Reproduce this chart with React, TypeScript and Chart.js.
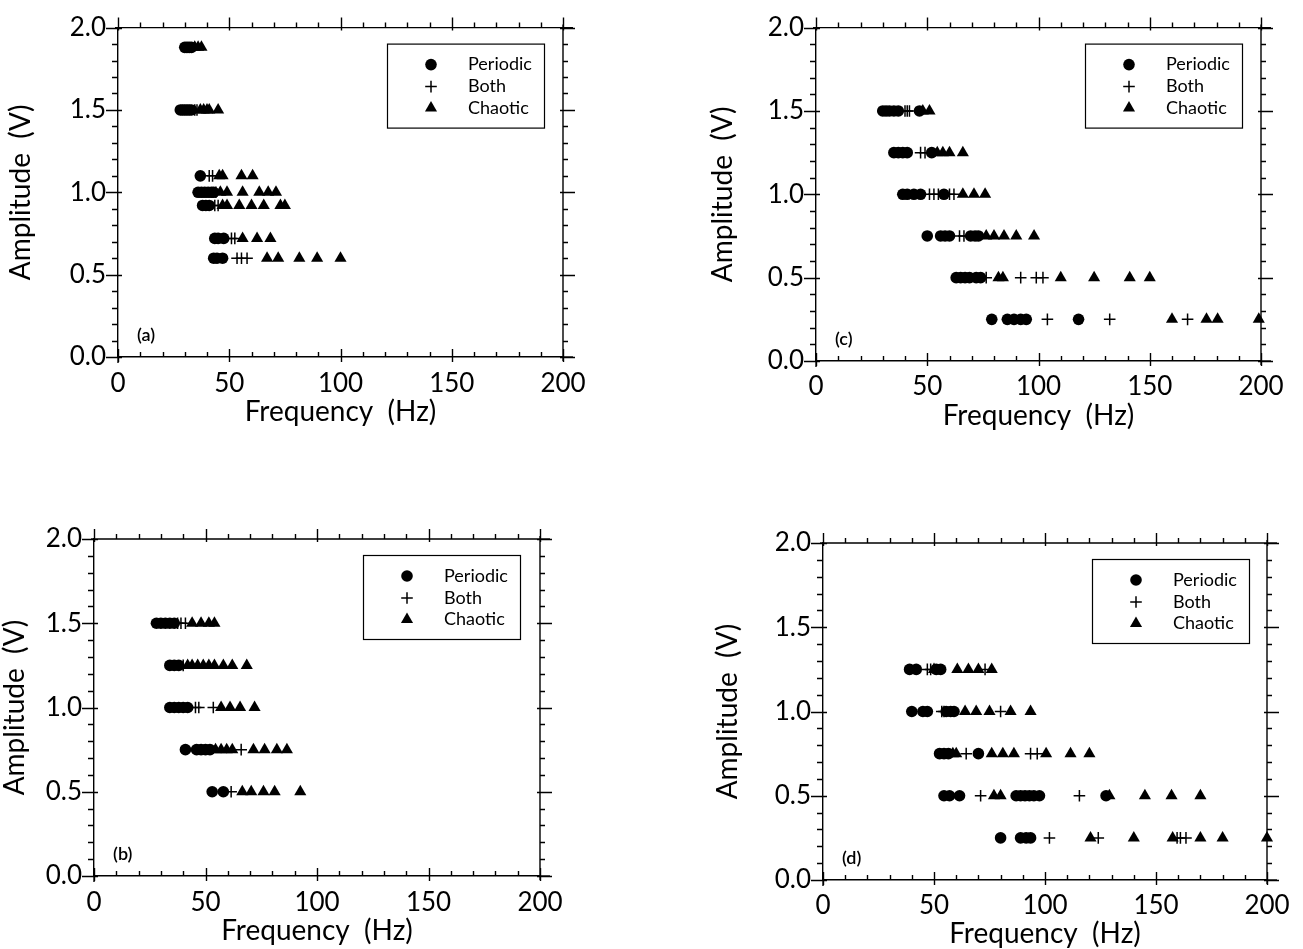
import React, { useEffect, useRef } from 'react';
import { Chart, registerables } from 'chart.js';
import { drawPoint } from 'chart.js/helpers';

Chart.register(...registerables);

const FONT = 'Lato, "Open Sans", "Liberation Sans", sans-serif';
const INK = '#000';

// ---------- shared axis / legend values ----------
const SERIES_LABELS = ['Periodic', 'Both', 'Chaotic'];
const X_MIN = 0;
const X_MAX = 200;
const X_MAJOR_STEP = 50;
const X_MINOR_STEP = 10;
const Y_MIN = 0;
const Y_MAX = 2;
const Y_MAJOR_STEP = 0.5;
const Y_MINOR_STEP = 0.1;
const X_TITLE = 'Frequency  (Hz)';
const Y_TITLE = 'Amplitude  (V)';

// ---------- panel (a): frequencies (Hz) per amplitude row ----------
const A_AMPLITUDES = [1.88, 1.5, 1.1, 1.0, 0.92, 0.72, 0.6];
const A_PERIODIC = [
  [30, 31, 32, 33],
  [28, 29, 30, 31, 32, 33],
  [37],
  [36, 37.5, 39, 40.5, 42, 43],
  [38, 39.5, 41],
  [43.5, 45, 47.5],
  [43, 44.5, 47],
];
const A_BOTH = [
  [],
  [34.5, 35.5],
  [41, 42.5],
  [44],
  [43.5, 45],
  [51, 52.5],
  [53.5, 55.5, 58],
];
const A_CHAOTIC = [
  [34.5, 36, 37.5],
  [37, 38.5, 40, 41, 45],
  [45.5, 47, 55.5, 60.5],
  [46, 49, 56, 63.5, 67.5, 71],
  [47, 49, 54.5, 60, 65.5, 73, 75],
  [56, 62.5, 68.5],
  [67, 72, 81.5, 89.5, 100],
];

// ---------- panel (b) ----------
const B_AMPLITUDES = [1.5, 1.25, 1.0, 0.75, 0.5];
const B_PERIODIC = [
  [28, 30, 32, 34, 36],
  [34, 36, 38],
  [34, 36, 38, 40, 42],
  [41, 46, 48, 50, 52],
  [53, 58],
];
const B_BOTH = [
  [37.5, 39, 41],
  [40],
  [45.5, 47, 53.5],
  [66],
  [61.5],
];
const B_CHAOTIC = [
  [44, 48, 51.5, 54],
  [42, 44, 46.5, 49, 51.5, 54, 58, 62, 68.5],
  [57, 61, 65.5, 72],
  [54.5, 57, 59.5, 62, 71.5, 76.5, 82, 86.5],
  [66.5, 70.5, 76, 81, 92.5],
];

// ---------- panel (c) ----------
const C_AMPLITUDES = [1.5, 1.25, 1.0, 0.75, 0.5, 0.25];
const C_PERIODIC = [
  [30, 31.5, 33, 35, 37, 46.5],
  [35, 37, 39, 41, 52],
  [39, 41, 44, 47, 57.5],
  [50, 56, 58, 60, 69.5, 71.5, 73],
  [63, 65, 67, 69, 72, 74],
  [79, 86, 89, 92, 94.5, 118],
];
const C_BOTH = [
  [40, 41, 42],
  [47, 49],
  [51, 53, 55, 60, 62],
  [64.5, 66.5],
  [76.5, 92, 99, 102],
  [104, 132, 167],
];
const C_CHAOTIC = [
  [48, 51],
  [54.5, 57, 60, 66],
  [66, 71, 76],
  [76.5, 80, 84.5, 90, 98],
  [82, 84, 110, 125, 141, 150],
  [160, 175.5, 180.5, 199],
];

// ---------- panel (d) ----------
const D_AMPLITUDES = [1.25, 1.0, 0.75, 0.5, 0.25];
const D_PERIODIC = [
  [39, 42, 51, 53],
  [40, 45, 47, 55.5, 57.5, 59],
  [52.5, 54.5, 56.5, 70],
  [54.5, 57, 61.5, 87, 89, 91, 93, 95, 97.5, 127.5],
  [80, 89, 91.5, 93.5],
];
const D_BOTH = [
  [47, 48.5, 73],
  [53.5, 54.5, 80],
  [64.5, 93.5, 96.5],
  [71, 115.5],
  [102, 124, 159.5, 161, 163.5],
];
const D_CHAOTIC = [
  [50, 60.5, 65.5, 70, 76],
  [64, 69, 75, 84.5, 93.5],
  [58.5, 60, 76, 81, 86, 100.5, 111.5, 120],
  [77, 80, 129, 145, 157, 170],
  [120.5, 140, 157.5, 170, 180, 200],
];

// ---------- layout (page pixels) ----------
type Panel = {
  tag: string;
  amps: number[];
  periodic: number[][];
  both: number[][];
  chaotic: number[][];
  box: { left: number; top: number; width: number; height: number };
  area: { l: number; t: number; r: number; b: number };
  yTitleX: number;
  tickDY: number;
  titleDY: number;
};

const PANELS: Panel[] = [
  {
    tag: '(a)', amps: A_AMPLITUDES, periodic: A_PERIODIC, both: A_BOTH, chaotic: A_CHAOTIC,
    box: { left: 0, top: 0, width: 650, height: 470 },
    area: { l: 118, t: 21, r: 563, b: 357 }, yTitleX: 21, tickDY: 27, titleDY: 55,
  },
  {
    tag: '(c)', amps: C_AMPLITUDES, periodic: C_PERIODIC, both: C_BOTH, chaotic: C_CHAOTIC,
    box: { left: 650, top: 0, width: 653, height: 470 },
    area: { l: 816, t: 21, r: 1261, b: 361 }, yTitleX: 723, tickDY: 26, titleDY: 55,
  },
  {
    tag: '(b)', amps: B_AMPLITUDES, periodic: B_PERIODIC, both: B_BOTH, chaotic: B_CHAOTIC,
    box: { left: 0, top: 470, width: 650, height: 479 },
    area: { l: 94, t: 539, r: 540, b: 876 }, yTitleX: 15, tickDY: 27, titleDY: 55,
  },
  {
    tag: '(d)', amps: D_AMPLITUDES, periodic: D_PERIODIC, both: D_BOTH, chaotic: D_CHAOTIC,
    box: { left: 650, top: 470, width: 653, height: 479 },
    area: { l: 823, t: 543, r: 1267, b: 880 }, yTitleX: 728, tickDY: 26, titleDY: 54,
  },
];

const TICK_SIZE = 26;
const TITLE_SIZE = 28;
const LEGEND_SIZE = 18;
const TAG_SIZE = 18;

function toPoints(amps: number[], rows: number[][]) {
  const pts: { x: number; y: number }[] = [];
  rows.forEach((freqs, i) => freqs.forEach((f) => pts.push({ x: f, y: amps[i] })));
  return pts;
}

const MARKERS = [
  { pointStyle: 'circle', radius: 5.8, borderWidth: 0 },
  { pointStyle: 'cross', radius: 5.8, borderWidth: 1.5 },
  { pointStyle: 'triangle', radius: 7, borderWidth: 0 },
];

const framePlugin = {
  id: 'figureFrame',
  afterDraw(chart: any, _args: any, opts: any) {
    const { ctx, chartArea, scales } = chart;
    const { left, right, top, bottom } = chartArea;
    const xs = scales.x;
    const ys = scales.y;
    ctx.save();
    ctx.strokeStyle = INK;
    ctx.lineWidth = 1.4;
    ctx.beginPath();
    // top and right frame lines, with small overshoot
    ctx.moveTo(left - 3, top);
    ctx.lineTo(right + 10, top);
    ctx.moveTo(right, top - 3);
    ctx.lineTo(right, bottom + 4);
    ctx.moveTo(right, bottom);
    ctx.lineTo(right + 10, bottom);
    ctx.moveTo(left, bottom);
    ctx.lineTo(left, bottom + 6);
    // x ticks
    const nx = Math.round((X_MAX - X_MIN) / X_MINOR_STEP);
    for (let i = 0; i <= nx; i++) {
      const v = X_MIN + i * X_MINOR_STEP;
      const px = Math.round(xs.getPixelForValue(v)) + 0.5;
      const major = Math.abs(v / X_MAJOR_STEP - Math.round(v / X_MAJOR_STEP)) < 1e-6;
      ctx.moveTo(px, bottom + (major ? 5 : 0));
      ctx.lineTo(px, bottom - (major ? 8 : 5));
      ctx.moveTo(px, top + (major ? 3 : 0));
      ctx.lineTo(px, top - (major ? 10 : 5));
    }
    // y ticks
    const ny = Math.round((Y_MAX - Y_MIN) / Y_MINOR_STEP);
    for (let i = 0; i <= ny; i++) {
      const v = Y_MIN + i * Y_MINOR_STEP;
      const py = Math.round(ys.getPixelForValue(v)) + 0.5;
      const major = Math.abs(v / Y_MAJOR_STEP - Math.round(v / Y_MAJOR_STEP)) < 1e-6;
      ctx.moveTo(left + (major ? 4 : 0), py);
      ctx.lineTo(left - (major ? 12 : 6), py);
      ctx.moveTo(right - (major ? 3 : 0), py);
      ctx.lineTo(right + (major ? 12 : 5), py);
    }
    ctx.stroke();

    // legend box
    const bx = left + 269;
    const by = top + 16;
    const bw = 157;
    const bh = 84;
    ctx.lineWidth = 1.2;
    ctx.strokeRect(bx + 0.5, by + 0.5, bw, bh);
    const rowY = [21, 43, 64.5];
    chart.data.datasets.forEach((ds: any, i: number) => {
      const y = by + rowY[i];
      ctx.fillStyle = INK;
      ctx.strokeStyle = INK;
      ctx.lineWidth = MARKERS[i].borderWidth || 1;
      drawPoint(ctx, { pointStyle: MARKERS[i].pointStyle, radius: MARKERS[i].radius, borderWidth: MARKERS[i].borderWidth, rotation: 0 } as any, bx + 44, y);
      ctx.font = `${LEGEND_SIZE}px ${FONT}`;
      ctx.textAlign = 'left';
      ctx.textBaseline = 'middle';
      ctx.fillText(ds.label, bx + 81, y);
    });

    // panel tag
    ctx.font = `600 ${TAG_SIZE}px ${FONT}`;
    ctx.fillStyle = INK;
    ctx.textAlign = 'left';
    ctx.textBaseline = 'middle';
    ctx.fillText(opts.tag, left + 19, bottom - 22);
    ctx.restore();
  },
};

function PanelChart({ p }: { p: Panel }) {
  const ref = useRef<HTMLCanvasElement | null>(null);
  useEffect(() => {
    if (!ref.current) return;
    const titleHalf = TITLE_SIZE / 2; // lineHeight 1
    const tickHalf = (TICK_SIZE * 1.2) / 2;
    const padLeft = Math.max(0, p.yTitleX - titleHalf - p.box.left);
    const yWidth = p.area.l - p.box.left - padLeft;
    const xHeight = p.titleDY + titleHalf;
    const padTop = p.area.t - p.box.top;
    const padRight = p.box.left + p.box.width - p.area.r;
    const padBottom = p.box.top + p.box.height - p.area.b - xHeight;

    const series = [p.periodic, p.both, p.chaotic];
    const datasets = series.map((rows, i) => ({
      label: SERIES_LABELS[i],
      data: toPoints(p.amps, rows),
      pointStyle: MARKERS[i].pointStyle,
      pointRadius: MARKERS[i].radius,
      pointBorderWidth: MARKERS[i].borderWidth,
      pointBackgroundColor: INK,
      pointBorderColor: INK,
      backgroundColor: INK,
      borderColor: INK,
      showLine: false,
      clip: false as any,
    }));

    const chart = new Chart(ref.current, {
      type: 'scatter',
      data: { datasets },
      plugins: [framePlugin],
      options: {
        animation: false,
        responsive: false,
        maintainAspectRatio: false,
        events: [],
        layout: { padding: { left: padLeft, top: padTop, right: padRight, bottom: padBottom } },
        plugins: {
          legend: { display: false },
          tooltip: { enabled: false },
          figureFrame: { tag: p.tag },
        } as any,
        scales: {
          x: {
            type: 'linear',
            min: X_MIN,
            max: X_MAX,
            grid: { display: false, drawTicks: false },
            border: { display: true, color: INK, width: 1.4 },
            ticks: {
              stepSize: X_MAJOR_STEP,
              color: INK,
              font: { family: FONT, size: TICK_SIZE },
              padding: p.tickDY - tickHalf,
              maxRotation: 0,
              autoSkip: false,
            },
            title: {
              display: true,
              text: X_TITLE,
              color: INK,
              font: { family: FONT, size: TITLE_SIZE, lineHeight: 1 },
              padding: 0,
            },
            afterFit: (s: any) => { s.height = xHeight; },
          },
          y: {
            type: 'linear',
            min: Y_MIN,
            max: Y_MAX,
            grid: { display: false, drawTicks: false },
            border: { display: true, color: INK, width: 1.4 },
            ticks: {
              stepSize: Y_MAJOR_STEP,
              color: INK,
              font: { family: FONT, size: TICK_SIZE },
              padding: 12,
              callback: (v: any) => Number(v).toFixed(1),
            },
            title: {
              display: true,
              text: Y_TITLE,
              color: INK,
              font: { family: FONT, size: TITLE_SIZE, lineHeight: 1 },
              padding: 0,
            },
            afterFit: (s: any) => { s.width = yWidth; },
          },
        },
      } as any,
    });
    return () => chart.destroy();
  }, [p]);

  return (
    <canvas
      ref={ref}
      width={p.box.width}
      height={p.box.height}
      style={{ position: 'absolute', left: p.box.left, top: p.box.top, width: p.box.width, height: p.box.height }}
    />
  );
}

export default function App() {
  return (
    <div style={{ position: 'absolute', left: 0, top: 0, width: 1303, height: 949, overflow: 'hidden', background: '#fff' }}>
      {PANELS.map((p) => (
        <PanelChart key={p.tag} p={p} />
      ))}
    </div>
  );
}
